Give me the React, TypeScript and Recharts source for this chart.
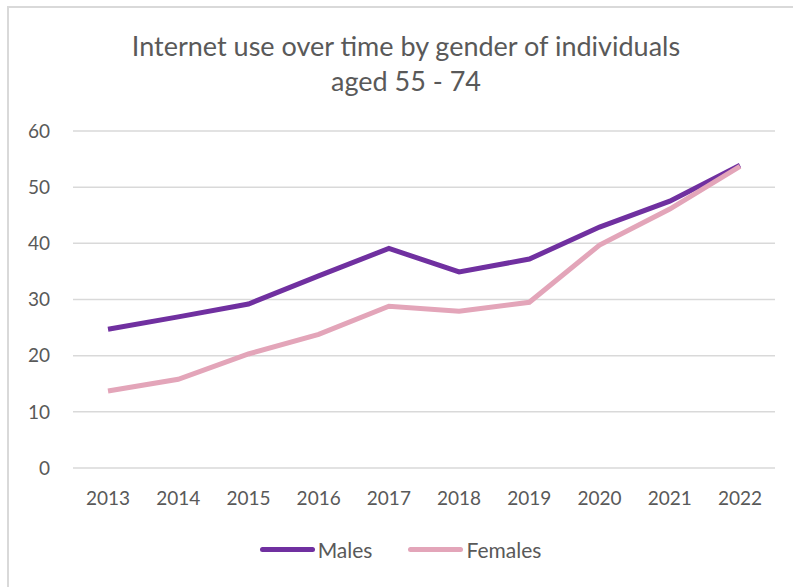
import { LineChart, Line, XAxis, YAxis, CartesianGrid } from "recharts";

const YEARS = ["2013", "2014", "2015", "2016", "2017", "2018", "2019", "2020", "2021", "2022"];
const MALES = [24.7, 26.9, 29.2, 34.2, 39.1, 34.9, 37.2, 42.9, 47.5, 53.9];
const FEMALES = [13.7, 15.8, 20.3, 23.8, 28.8, 27.9, 29.5, 39.7, 46.1, 53.7];
const Y_TICKS = [0, 10, 20, 30, 40, 50, 60];

const SERIES = [
  { key: "Males", color: "#7030a0" },
  { key: "Females", color: "#e3a5b9" },
];

const FONT = "Lato, 'Open Sans', sans-serif";
const TEXT = "#595959";

function ChartLegend() {
  return (
    <div
      style={{
        position: "absolute",
        top: 537,
        left: 4,
        width: 793,
        display: "flex",
        justifyContent: "center",
        gap: 36,
        fontFamily: FONT,
        fontSize: 21,
        color: TEXT,
      }}
    >
      {SERIES.map((s) => (
        <div key={s.key} style={{ display: "flex", alignItems: "center" }}>
          <span
            style={{
              display: "inline-block",
              width: 55,
              height: 5,
              borderRadius: 3,
              background: s.color,
              marginRight: 3,
            }}
          />
          <span>{s.key}</span>
        </div>
      ))}
    </div>
  );
}

export default function App() {
  const data = YEARS.map((y, i) => ({ year: y, Males: MALES[i], Females: FEMALES[i] }));

  return (
    <div style={{ position: "absolute", left: 0, top: 0, width: 793, height: 587, background: "#fff", overflow: "hidden" }}>
      <div
        style={{
          position: "absolute",
          left: 7,
          top: 6,
          width: 793,
          height: 600,
          borderLeft: "2px solid #d9d9d9",
          borderTop: "2px solid #d9d9d9",
        }}
      />
      <div
        style={{
          position: "absolute",
          left: 0,
          top: 28,
          width: 812,
          textAlign: "center",
          fontFamily: FONT,
          fontSize: 27,
          lineHeight: "35px",
          color: TEXT,
        }}
      >
        Internet use over time by gender of individuals
        <br />
        aged 55 - 74
      </div>
      <LineChart width={793} height={587} data={data} margin={{ top: 131, right: 18, bottom: 89, left: 0 }}>
        <CartesianGrid vertical={false} stroke="#d9d9d9" strokeWidth={1.5} />
        <XAxis
          dataKey="year"
          padding={{ left: 35, right: 35 }}
          axisLine={false}
          tickLine={false}
          tickMargin={18}
          height={30}
          tick={{ fill: TEXT, fontSize: 19, fontFamily: FONT }}
        />
        <YAxis
          domain={[0, 60]}
          ticks={Y_TICKS}
          width={73}
          axisLine={false}
          tickLine={false}
          tickMargin={17}
          tick={{ fill: TEXT, fontSize: 19, fontFamily: FONT }}
        />
        {SERIES.map((s) => (
          <Line
            key={s.key}
            type="linear"
            dataKey={s.key}
            stroke={s.color}
            strokeWidth={5}
            dot={false}
            isAnimationActive={false}
          />
        ))}
      </LineChart>
      <ChartLegend />
    </div>
  );
}
